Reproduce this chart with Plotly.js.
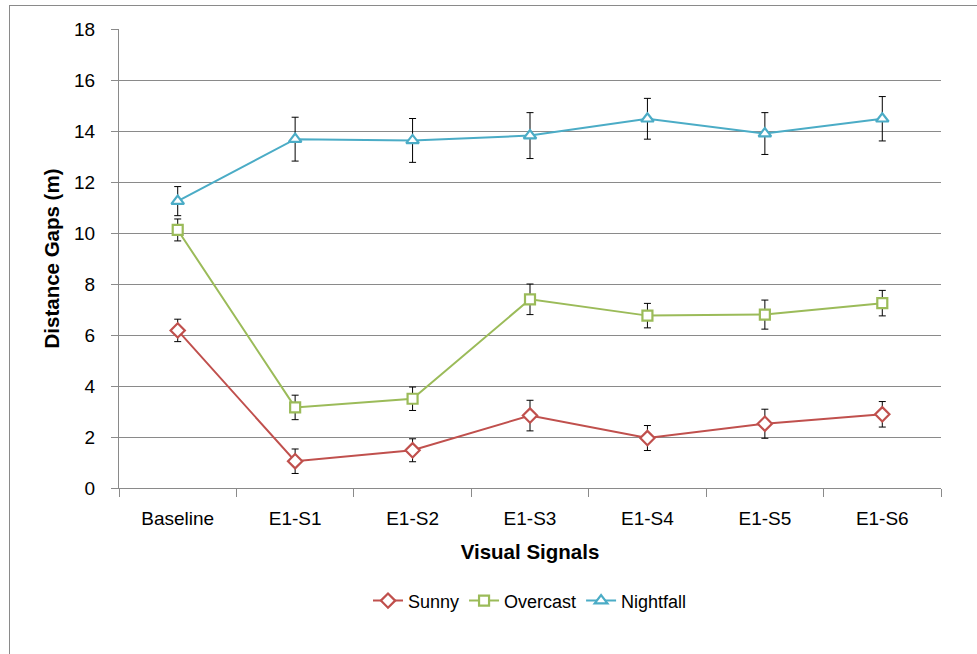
<!DOCTYPE html>
<html>
<head>
<meta charset="utf-8">
<script src="https://cdn.plot.ly/plotly-3.0.1.min.js"></script>
<style>
  html, body { margin: 0; padding: 0; background: #ffffff; }
  #wrap { position: relative; width: 977px; height: 654px; }
  #chart { width: 977px; height: 654px; }
  #frame { position: absolute; left: 9px; top: 5px; right: -2px; bottom: -2px;
           border-left: 1px solid #8a8a8a; border-top: 1px solid #8a8a8a; pointer-events: none; }
</style>
</head>
<body>
<div id="wrap">
  <div id="chart"></div>
  <div id="frame"></div>
</div>
<script>
const categories = ["Baseline", "E1-S1", "E1-S2", "E1-S3", "E1-S4", "E1-S5", "E1-S6"];

const sunny      = [6.18, 1.05, 1.48, 2.84, 1.96, 2.52, 2.89];
const sunnyErr   = [0.44, 0.48, 0.45, 0.60, 0.49, 0.57, 0.50];

const overcast    = [10.12, 3.16, 3.50, 7.40, 6.76, 6.80, 7.25];
const overcastErr = [0.43, 0.48, 0.46, 0.60, 0.48, 0.57, 0.50];

const nightfall    = [11.25, 13.68, 13.63, 13.82, 14.48, 13.90, 14.48];
const nightfallErr = [0.57, 0.86, 0.86, 0.90, 0.80, 0.82, 0.87];

const yTicks = [0, 2, 4, 6, 8, 10, 12, 14, 16, 18];

const FONT = "Liberation Sans, Arial, sans-serif";

function series(name, y, err, color, symbol, size) {
  return {
    type: "scatter",
    mode: "lines+markers",
    name: name,
    x: categories,
    y: y,
    line: { color: color, width: 2 },
    marker: { symbol: symbol, size: size, color: "#ffffff", line: { color: color, width: 2.2 } },
    error_y: { type: "data", array: err, visible: true, color: "#000000", thickness: 1, width: 3.5 },
    hoverinfo: "x+y+name"
  };
}

const data = [
  series("Sunny", sunny, sunnyErr, "#C0504D", "diamond", 11),
  series("Overcast", overcast, overcastErr, "#9BBB59", "square", 10),
  series("Nightfall", nightfall, nightfallErr, "#4BACC6", "triangle-up", 11)
];

const layout = {
  width: 977,
  height: 654,
  margin: { l: 119, r: 36, t: 29, b: 166 },
  paper_bgcolor: "rgba(0,0,0,0)",
  plot_bgcolor: "#ffffff",
  font: { family: FONT, color: "#000000", size: 19 },
  showlegend: true,
  legend: {
    orientation: "h",
    x: 0.5, xanchor: "center",
    y: -0.246, yanchor: "middle",
    font: { family: FONT, size: 18, color: "#000000" },
    itemwidth: 30,
    traceorder: "normal"
  },
  xaxis: {
    type: "category",
    range: [-0.5, 6.5],
    showline: true,
    linecolor: "#8a8a8a",
    linewidth: 1,
    showgrid: false,
    zeroline: false,
    ticks: "outside",
    tickson: "boundaries",
    ticklen: 8,
    tickcolor: "#8a8a8a",
    ticklabelstandoff: 13,
    tickfont: { family: FONT, size: 19, color: "#000000" },
    title: { text: "<b>Visual Signals</b>", font: { family: FONT, size: 20.5, color: "#000000" }, standoff: 16 },
    fixedrange: true
  },
  yaxis: {
    range: [0, 18],
    tickvals: yTicks,
    ticktext: yTicks.map(String),
    showline: true,
    linecolor: "#8a8a8a",
    linewidth: 1,
    showgrid: true,
    gridcolor: "#8a8a8a",
    gridwidth: 1,
    zeroline: false,
    ticks: "outside",
    ticklen: 7,
    tickcolor: "#8a8a8a",
    ticklabelstandoff: 12,
    tickfont: { family: FONT, size: 19, color: "#000000" },
    title: { text: "<b>Distance Gaps (m)</b>", font: { family: FONT, size: 20.5, color: "#000000" }, standoff: 8 },
    fixedrange: true
  }
};

Plotly.newPlot("chart", data, layout, { displayModeBar: false, staticPlot: false });
</script>
</body>
</html>
